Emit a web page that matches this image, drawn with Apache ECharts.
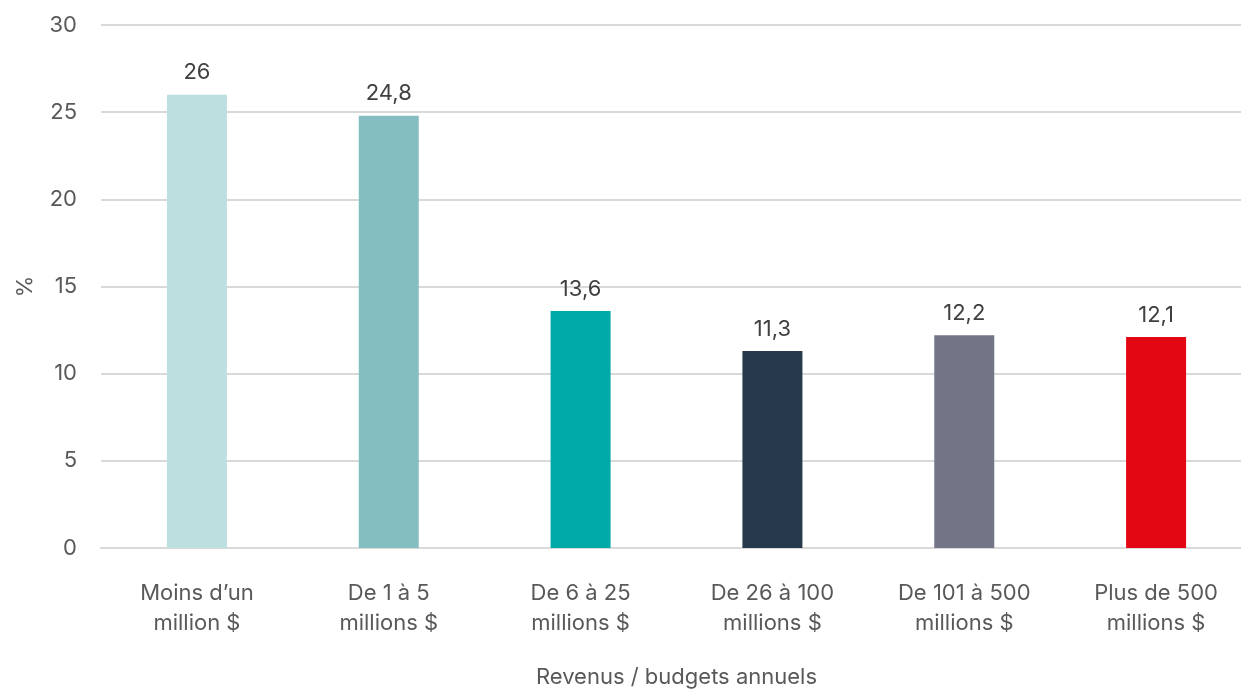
<!DOCTYPE html>
<html>
<head>
<meta charset="utf-8">
<script src="https://cdn.jsdelivr.net/npm/echarts@6/dist/echarts.min.js"></script>
<style>
  html, body { margin: 0; padding: 0; background: #fff; }
  #chart { width: 1241px; height: 690px; }
</style>
</head>
<body>
<div id="chart"></div>
<script>
const categories = ['Moins d\u2019un\nmillion $', 'De 1 à 5\nmillions $', 'De 6 à 25\nmillions $', 'De 26 à 100\nmillions $', 'De 101 à 500\nmillions $', 'Plus de 500\nmillions $'];
const values = [26, 24.8, 13.6, 11.3, 12.2, 12.1];
const barColors = ['#bcdfe0', '#85bec0', '#00aaa8', '#263a4c', '#727586', '#e30613'];

const font = 'Inter, "Open Sans", sans-serif';
const chart = echarts.init(document.getElementById('chart'));
chart.setOption({
  animation: false,
  textStyle: { fontFamily: font },
  grid: { left: 101, right: -11, top: 25, bottom: 142, containLabel: false, outerBoundsMode: 'none' },
  xAxis: {
    type: 'category',
    data: categories,
    name: 'Revenus / budgets annuels',
    nameLocation: 'middle',
    nameGap: 118,
    nameTextStyle: { fontSize: 22, color: '#595959', fontFamily: font },
    axisLine: { lineStyle: { color: '#d9d9d9', width: 2 } },
    axisTick: { show: false },
    axisLabel: { fontSize: 22, color: '#595959', lineHeight: 30, margin: 30, fontFamily: font, interval: 0 }
  },
  yAxis: {
    type: 'value',
    min: 0,
    max: 30,
    interval: 5,
    name: '%',
    nameLocation: 'middle',
    nameGap: 65,
    nameTextStyle: { fontSize: 22, color: '#595959', fontFamily: font },
    axisLine: { show: false },
    axisTick: { show: false },
    axisLabel: { fontSize: 22, color: '#595959', margin: 24, fontFamily: font },
    splitLine: { lineStyle: { color: '#d9d9d9', width: 2 } }
  },
  series: [{
    type: 'bar',
    barWidth: 60,
    data: values.map((v, i) => ({ value: v, itemStyle: { color: barColors[i] } })),
    label: {
      show: true,
      position: 'top',
      distance: 11,
      fontSize: 22,
      color: '#404040',
      fontFamily: font,
      formatter: p => String(p.value).replace('.', ',')
    }
  }]
});
</script>
</body>
</html>
